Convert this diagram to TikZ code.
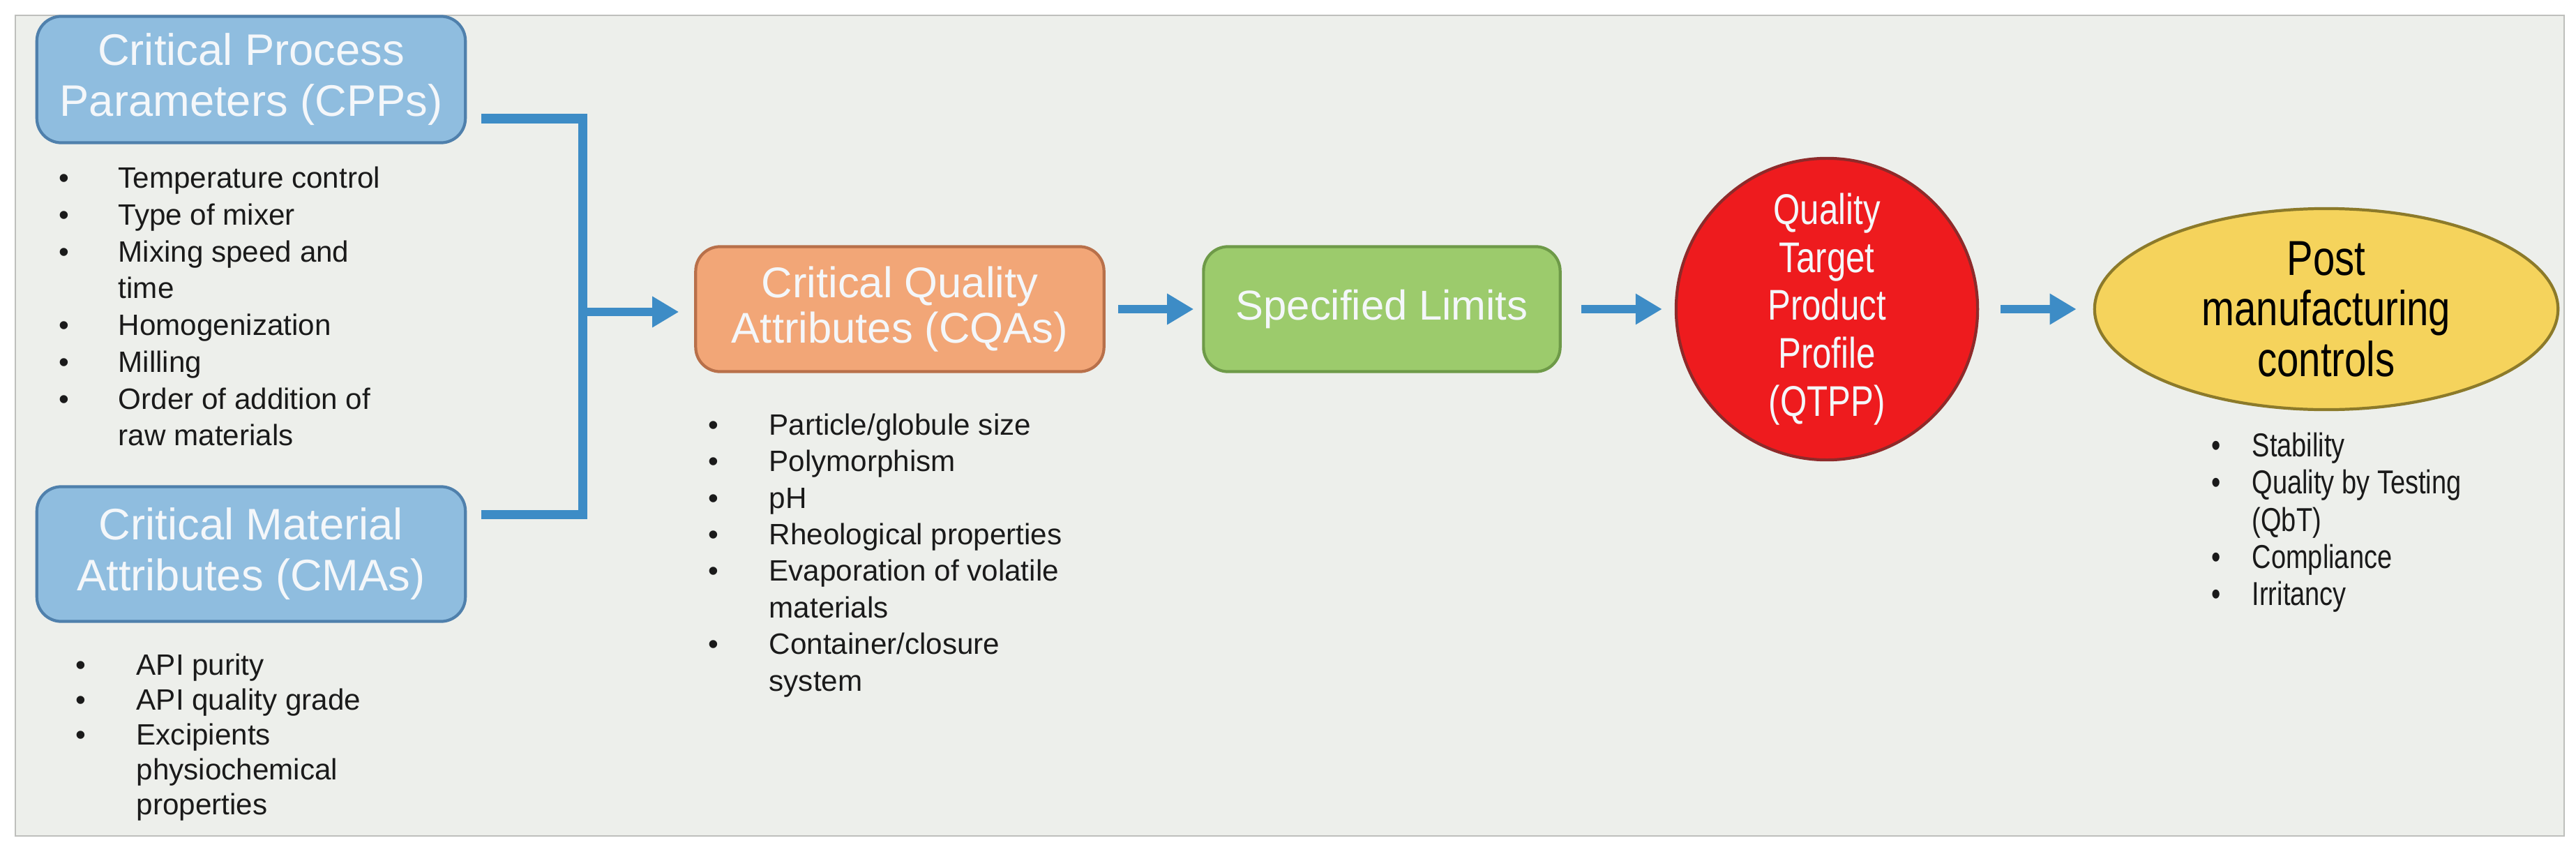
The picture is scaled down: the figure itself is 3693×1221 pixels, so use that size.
\documentclass[tikz,border=0pt]{standalone}
\usepackage{fontspec}
\setmainfont{Liberation Sans}
\newfontfamily\narrowfont[FakeStretch=0.8]{Liberation Sans}
\usetikzlibrary{arrows.meta,shapes.geometric}
\definecolor{panel}{HTML}{EDEFEB}
\definecolor{bluefill}{HTML}{8FBDDF}
\definecolor{blueedge}{HTML}{4F80AC}
\definecolor{arrowblue}{HTML}{3D8CC6}
\definecolor{orangefill}{HTML}{F2A677}
\definecolor{orangeedge}{HTML}{B8704A}
\definecolor{greenfill}{HTML}{9CCB6C}
\definecolor{greenedge}{HTML}{6E9A48}
\definecolor{redfill}{HTML}{EE1B1E}
\definecolor{rededge}{HTML}{8E2A2A}
\definecolor{yellowfill}{HTML}{F5D35C}
\definecolor{yellowedge}{HTML}{8C7A2A}
\definecolor{headtxt}{HTML}{F4F7FA}
\definecolor{listtxt}{HTML}{1A1A1A}
\tikzset{
  hbox/.style={draw=#1, line width=1.2pt, rounded corners=0.35cm, inner sep=0pt, align=center, text=headtxt},
  flow/.style={draw=arrowblue, line width=0.12cm, -{Triangle[length=0.38cm,width=0.42cm]}},
  brk/.style={draw=arrowblue, line width=0.13cm},
  lst/.style={anchor=north west, inner sep=0pt, align=left, text=listtxt},
}
\newcommand{\blist}[3]{\begin{tabular}{@{}p{#1}@{}p{#2}@{}}#3\end{tabular}}
\newcommand{\bl}{\textbullet}
\begin{document}
\begin{tikzpicture}[x=0.01cm,y=-0.01cm]
\useasboundingbox (0,0) rectangle (3693,1221);
\fill[white] (0,0) rectangle (3693,1221);
\draw[panel!80!black, fill=panel, line width=0.6pt] (22,22) rectangle (3676,1198);
% headers
\node[hbox=blueedge, fill=bluefill, minimum width=6.14cm, minimum height=1.81cm, font=\fontsize{18}{20.7}\selectfont] (cpp) at (360,114) {Critical Process\\Parameters (CPPs)};
\node[hbox=blueedge, fill=bluefill, minimum width=6.14cm, minimum height=1.93cm, font=\fontsize{18}{20.7}\selectfont] (cma) at (360,794) {Critical Material\\Attributes (CMAs)};
\node[hbox=orangeedge, fill=orangefill, minimum width=5.85cm, minimum height=1.79cm, font=\fontsize{17.5}{18.5}\selectfont] (cqa) at (1290,443) {Critical Quality\\Attributes (CQAs)};
\node[hbox=greenedge, fill=greenfill, minimum width=5.11cm, minimum height=1.79cm, font=\fontsize{17}{20}\selectfont] (spec) at (1981,443) {Specified Limits};
\node[circle, draw=rededge, line width=1.2pt, fill=redfill, minimum size=4.32cm, inner sep=0pt] (qtpp) at (2619,443) {};
\node[align=center, text=headtxt, font=\narrowfont\fontsize{17.5}{19.6}\selectfont] (qtxt) at (qtpp.center) {Quality\\Target\\Product\\Profile\\(QTPP)};
\node[ellipse, draw=yellowedge, line width=1.2pt, fill=yellowfill, minimum width=6.64cm, minimum height=2.88cm, inner sep=0pt] (post) at (3335,443) {};
\node[align=center, font=\narrowfont\fontsize{20}{20.7}\selectfont] (ptxt) at (post.center) {Post\\manufacturing\\controls};
% lists
\node[lst, font=\fontsize{12}{15}\selectfont] (cpplist) at (84,232) {\blist{0.85cm}{4.5cm}{%
\bl & Temperature control\\ \bl & Type of mixer\\ \bl & Mixing speed and\newline time\\ \bl & Homogenization\\ \bl & Milling\\ \bl & Order of addition of\newline raw materials}};
\node[lst, font=\fontsize{12}{14.2}\selectfont] (cmalist) at (108,932) {\blist{0.87cm}{4.5cm}{%
\bl & API purity\\ \bl & API quality grade\\ \bl & Excipients\newline physiochemical\newline properties}};
\node[lst, font=\fontsize{12}{14.9}\selectfont] (cqalist) at (1015,586) {\blist{0.87cm}{5.2cm}{%
\bl & Particle/globule size\\ \bl & Polymorphism\\ \bl & pH\\ \bl & Rheological properties\\ \bl & Evaporation of volatile\newline materials\\ \bl & Container/closure\newline system}};
\node[lst, font=\narrowfont\fontsize{13.5}{15.2}\selectfont] (postlist) at (3170,616) {\blist{0.58cm}{4cm}{%
\bl & Stability\\ \bl & Quality by Testing\newline (QbT)\\ \bl & Compliance\\ \bl & Irritancy}};
% bracket
\coordinate (bt) at (835,170);
\coordinate (bb) at (835,737);
\coordinate (bm) at (835,447);
\draw[brk] (690,170) -- (bt) -- (bb) -- (690,737);
\draw[flow, shorten >=0.22cm] (bm) -- (cqa.west |- bm);
\draw[flow, shorten <=0.18cm, shorten >=0.12cm] (cqa.east) -- (spec.west);
\draw[flow, shorten <=0.28cm, shorten >=0.18cm] (spec.east) -- (qtpp.west);
\draw[flow, shorten <=0.31cm, shorten >=0.24cm] (qtpp.east) -- (post.west);
\end{tikzpicture}
\end{document}
